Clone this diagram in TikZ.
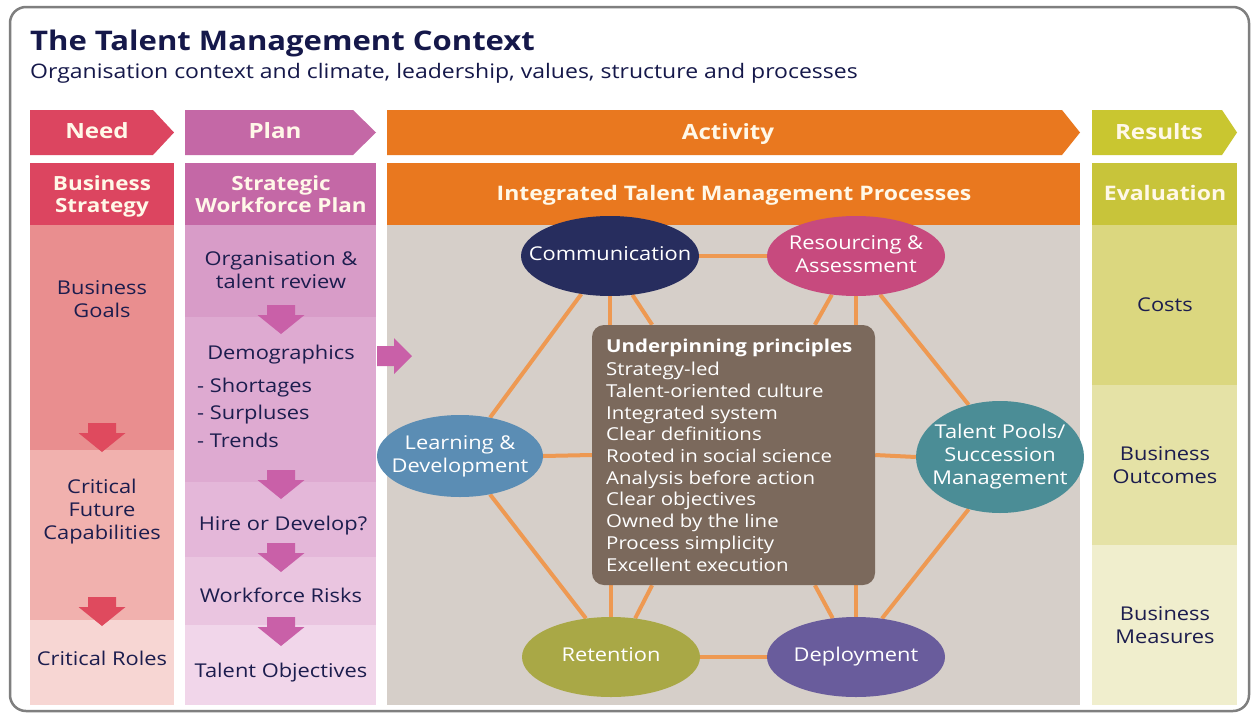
\documentclass[tikz,border=0pt]{standalone}
\usepackage{fontspec}
\setmainfont{Open Sans}[FakeStretch=1.15]
\usetikzlibrary{shapes.geometric}
\pgfdeclarelayer{bg}
\pgfdeclarelayer{lines}
\pgfsetlayers{bg,lines,main}
\definecolor{navy}{HTML}{1C1D4E}
\definecolor{titlec}{HTML}{15184A}
\definecolor{hdrtxt}{HTML}{FFF8E8}
\definecolor{needhd}{HTML}{DC4560}
\definecolor{needA}{HTML}{E98E8F}
\definecolor{needB}{HTML}{F1B1AE}
\definecolor{needC}{HTML}{F7D6D3}
\definecolor{needarr}{HTML}{DF4A5E}
\definecolor{planhd}{HTML}{C468A6}
\definecolor{planA}{HTML}{D89CC8}
\definecolor{planB}{HTML}{DEAAD1}
\definecolor{planC}{HTML}{E4B7D9}
\definecolor{planD}{HTML}{EAC5E0}
\definecolor{planE}{HTML}{F1D6EA}
\definecolor{planarr}{HTML}{C960A8}
\definecolor{acthd}{HTML}{E9781F}
\definecolor{grayc}{HTML}{D6CFC9}
\definecolor{reshd}{HTML}{C9C630}
\definecolor{evalc}{HTML}{C8C43A}
\definecolor{resA}{HTML}{DBD77F}
\definecolor{resB}{HTML}{E5E2A6}
\definecolor{resC}{HTML}{F0EECD}
\definecolor{connc}{HTML}{EE9952}
\definecolor{boxc}{HTML}{7B695C}
\definecolor{commc}{HTML}{272D5E}
\definecolor{resc}{HTML}{C74A7E}
\definecolor{ldc}{HTML}{5B8DB4}
\definecolor{tpc}{HTML}{4B8D96}
\definecolor{retc}{HTML}{A9A846}
\definecolor{depc}{HTML}{695C9C}
\definecolor{framec}{HTML}{7F7F7F}
\newcommand{\proctext}[1]{\makebox[0pt]{\begin{tabular}{@{}c@{}}#1\end{tabular}}}
\tikzset{
  hdr/.style={text=hdrtxt, font=\fontsize{21}{24}\selectfont\bfseries, inner sep=0, anchor=base},
  subhdr/.style={text=hdrtxt, font=\fontsize{19.5}{21.5}\selectfont\bfseries, align=center, inner sep=0, anchor=base},
  body/.style={text=navy, font=\fontsize{19}{23}\selectfont, align=center, inner sep=0, anchor=base},
  proc/.style={ellipse, minimum width=178pt, minimum height=80pt, inner sep=0, text=white, font=\fontsize{19}{23}\selectfont},
  conn/.style={draw=connc, line width=4pt},
  downarr/.pic={\fill (-14,0) -- (14,0) -- (14,10) -- (23.5,10) -- (0,29) -- (-23.5,10) -- (-14,10) -- cycle;},
}
\begin{document}
\begin{tikzpicture}[x=1pt,y=-1pt]
\useasboundingbox (0,0) rectangle (1253,718);
\begin{pgfonlayer}{bg}
\fill[white] (0,0) rectangle (1253,718);
% header arrows
\fill[needhd] (30,110) -- (153,110) -- (174,132.5) -- (153,155) -- (30,155) -- cycle;
\fill[planhd] (185,110) -- (353,110) -- (376,132.5) -- (353,155) -- (185,155) -- cycle;
\fill[acthd] (387,110) -- (1062,110) -- (1080,132.5) -- (1062,155) -- (387,155) -- cycle;
\fill[reshd] (1092,110) -- (1222,110) -- (1237,132.5) -- (1222,155) -- (1092,155) -- cycle;
% second row
\fill[needhd] (30,163) rectangle (174,225);
\fill[planhd] (185,163) rectangle (376,225);
\fill[acthd] (387,163) rectangle (1080,225);
\fill[evalc] (1092,163) rectangle (1237,225);
% need column
\fill[needA] (30,225) rectangle (174,450);
\fill[needB] (30,450) rectangle (174,620);
\fill[needC] (30,620) rectangle (174,705);
% plan column
\fill[planA] (185,225) rectangle (376,317);
\fill[planB] (185,317) rectangle (376,482);
\fill[planC] (185,482) rectangle (376,557);
\fill[planD] (185,557) rectangle (376,625);
\fill[planE] (185,625) rectangle (376,705);
% activity
\fill[grayc] (387,225) rectangle (1080,705);
% results
\fill[resA] (1092,225) rectangle (1237,385);
\fill[resB] (1092,385) rectangle (1237,545);
\fill[resC] (1092,545) rectangle (1237,705);
% arrows
\pic[color=needarr] at (102,423) {downarr};
\pic[color=needarr] at (102,597) {downarr};
\pic[color=planarr] at (281,305) {downarr};
\pic[color=planarr] at (281,470) {downarr};
\pic[color=planarr] at (281,543) {downarr};
\pic[color=planarr] at (281,617) {downarr};
\fill[planarr] (377,346) -- (394,346) -- (394,338) -- (412,356) -- (394,374) -- (394,366) -- (377,366) -- cycle;
\end{pgfonlayer}
\draw[draw=framec, line width=2.5pt, rounded corners=16pt] (10,7) rectangle (1249,711);
% titles
\node[anchor=base west, inner sep=0, text=titlec, font=\fontsize{27}{30}\selectfont\bfseries] (title) at (30,50) {The Talent Management Context};
\node[anchor=base west, inner sep=0, text=titlec, font=\fontsize{20}{23}\selectfont] (subtitle) at (30,78) {Organisation context and climate, leadership, values, structure and processes};
% headers
\node[hdr] (need) at (97,138) {Need};
\node[hdr] (plan) at (275,138) {Plan};
\node[hdr] (act) at (728,139) {Activity};
\node[hdr] (res) at (1159,139) {Results};
\node[subhdr] (bs) at (102,212) {Business\\Strategy};
\node[subhdr] (swp) at (281,212) {Strategic\\Workforce Plan};
\node[subhdr, font=\fontsize{20}{23}\selectfont\bfseries] (itmp) at (734,200) {Integrated Talent Management Processes};
\node[subhdr, font=\fontsize{20}{23}\selectfont\bfseries] (eval) at (1165,200) {Evaluation};
% need texts
\node[body] (goals) at (102,317) {Business\\Goals};
\node[body] (cfc) at (102,539) {Critical\\Future\\Capabilities};
\node[body] (roles) at (102,665) {Critical Roles};
% plan texts
\node[body] (otr) at (281,288) {Organisation \&\\talent review};
\node[body] (demo) at (281,359) {Demographics};
\node[body, anchor=base west] (short) at (197,392) {- Shortages};
\node[body, anchor=base west] (surp) at (197,419) {- Surpluses};
\node[body, anchor=base west] (trend) at (197,447) {- Trends};
\node[body] (hire) at (283,530) {Hire or Develop?};
\node[body] (risk) at (281,602) {Workforce Risks};
\node[body] (tobj) at (281,677) {Talent Objectives};
% results texts
\node[body] (costs) at (1165,311) {Costs};
\node[body] (bo) at (1165,483) {Business\\Outcomes};
\node[body] (bm) at (1165,643) {Business\\Measures};
% processes
\node[proc, fill=commc] (comm) at (610,256) {\proctext{Communication}};
\node[proc, fill=resc] (resa) at (856,256) {\proctext{Resourcing \&\\Assessment}};
\node[proc, fill=ldc, minimum width=166pt, minimum height=82pt] (ld) at (460,456) {\proctext{Learning \&\\Development}};
\node[proc, fill=tpc, minimum width=168pt, minimum height=112pt] (tp) at (1000,457) {\proctext{Talent Pools/\\Succession\\Management}};
\node[proc, fill=retc] (ret) at (611,657) {\proctext{Retention}};
\node[proc, fill=depc] (dep) at (856,657) {\proctext{Deployment}};
\node[fill=boxc, rounded corners=12pt, minimum width=283pt, minimum height=260pt, inner sep=0] (core) at (733.5,455) {};
\node[anchor=base west, inner sep=0, text=white, align=left, font=\fontsize{17.8}{21.7}\selectfont] (princ) at (606,571) {{\bfseries Underpinning principles}\\[2pt]Strategy-led\\Talent-oriented culture\\Integrated system\\Clear definitions\\Rooted in social science\\Analysis before action\\Clear objectives\\Owned by the line\\Process simplicity\\Excellent execution};
% connectors
\begin{pgfonlayer}{lines}
\draw[conn] (comm.east) -- (resa.west);
\draw[conn] (ret.east) -- (dep.west);
\draw[conn] (ld.east) -- (core.west);
\draw[conn] (core.east) -- (tp.west);
\draw[conn] (comm.233) -- (ld.52);
\draw[conn] (comm.south) -- (comm.south |- core.north);
\draw[conn] (comm.-60) -- (core.122);
\draw[conn] (resa.238) -- (core.58.5);
\draw[conn] (resa.south) -- (resa.south |- core.north);
\draw[conn] (resa.-58) -- (tp.121.6);
\draw[conn] (ld.-52) -- (ret.123);
\draw[conn] (ret.north) -- (ret.north |- core.south);
\draw[conn] (core.-122) -- (ret.58.8);
\draw[conn] (core.-58.5) -- (dep.121);
\draw[conn] (dep.north) -- (dep.north |- core.south);
\draw[conn] (tp.-121.6) -- (dep.56.7);
\end{pgfonlayer}
\end{tikzpicture}
\end{document}
